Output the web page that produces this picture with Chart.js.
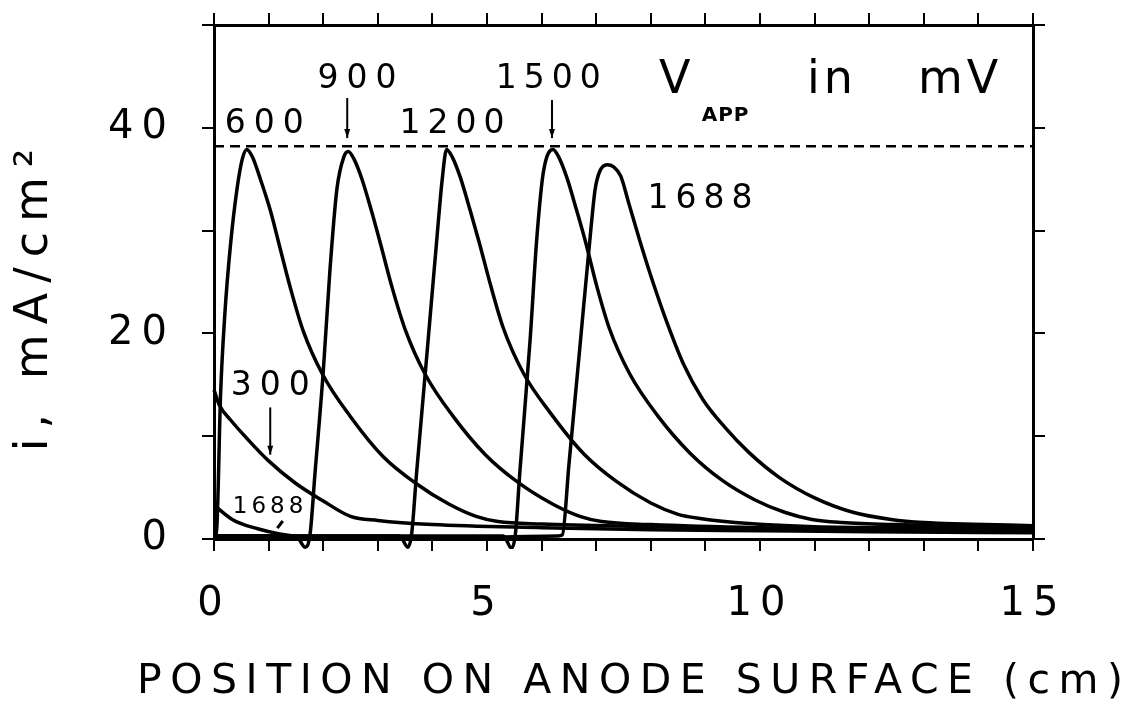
<!DOCTYPE html>
<html lang="en">
<head>
<meta charset="UTF-8">
<title>Current distribution on anode</title>
<style>
  html, body { margin: 0; padding: 0; background: #fff; }
  canvas { display: block; }
</style>
</head>
<body>
<canvas id="chart" width="1125" height="708"></canvas>
<script src="https://cdn.jsdelivr.net/npm/chart.js"></script>
<script>
// position (cm) vs current density (mA/cm2), one curve per V_APP
var x300 = [0, 0.1, 0.3, 0.6, 1.0, 1.5, 2.0, 2.5, 3.0, 4.0, 6.0, 8.0, 10.0, 12.0, 15.0];
var y300 = [14.5, 13.0, 11.6, 9.8, 7.6, 5.4, 3.7, 2.2, 1.8, 1.4, 1.1, 0.9, 0.8, 0.7, 0.6];

var x600 = [0, 0.05, 0.12, 0.2, 0.3, 0.42, 0.52, 0.6, 0.7, 0.85, 1.03, 1.2, 1.4, 1.63, 2.0, 2.5, 3.1, 3.7, 4.3, 4.8, 5.2, 6.0, 8.0, 10.0, 12.0, 15.0];
var y600 = [0, 1, 14, 22, 28.5, 34, 37, 37.9, 37.2, 35, 32, 28.5, 24.4, 20.3, 15.9, 11.9, 8, 5.4, 3.4, 2.2, 1.7, 1.45, 1.2, 1.0, 0.9, 0.8];

var x900 = [0, 1.5, 1.67, 1.76, 1.85, 2.0, 2.12, 2.25, 2.38, 2.46, 2.56, 2.71, 2.89, 3.06, 3.26, 3.5, 3.87, 4.37, 4.97, 5.57, 6.2, 6.7, 7.1, 8.0, 10.0, 12.0, 15.0];
var y900 = [0.3, 0.3, -0.8, 0.5, 6.4, 16.2, 25.9, 34, 37.2, 37.7, 37, 35, 31.8, 28.5, 24.5, 20.4, 16.0, 12, 8.2, 5.5, 3.4, 2.2, 1.7, 1.4, 1.1, 1.0, 0.9];

var x1200 = [0, 3.4, 3.55, 3.62, 3.71, 3.9, 4.08, 4.18, 4.26, 4.36, 4.51, 4.69, 4.86, 5.06, 5.3, 5.67, 6.17, 6.77, 7.37, 8.0, 8.5, 8.9, 9.8, 11.0, 13.0, 15.0];
var y1200 = [0.3, 0.3, -0.8, 0.5, 6.4, 18, 29.1, 35, 37.9, 37.2, 35.2, 32, 28.8, 24.8, 20.5, 16.1, 12.2, 8.3, 5.6, 3.5, 2.4, 2.0, 1.5, 1.2, 1.1, 1.0];

var x1500 = [0, 5.3, 5.45, 5.52, 5.6, 5.79, 5.91, 6.03, 6.21, 6.31, 6.46, 6.64, 6.81, 7.01, 7.24, 7.61, 8.11, 8.71, 9.31, 9.91, 10.45, 10.95, 11.5, 12.5, 15.0];
var y1500 = [0.3, 0.3, -0.9, 0.5, 6.4, 19.4, 29.1, 35.6, 37.9, 37.2, 35.2, 32, 28.8, 24.6, 20.5, 16.1, 12.1, 8.4, 5.7, 3.8, 2.6, 1.9, 1.6, 1.4, 1.2];

var x1688 = [0, 0.35, 0.8, 1.2, 1.7, 3.0, 5.0, 6.3, 6.38, 6.5, 6.7, 6.9, 6.98, 7.06, 7.2, 7.32, 7.45, 7.6, 7.8, 8.05, 8.3, 8.6, 8.95, 9.35, 9.8, 10.35, 11.0, 11.7, 12.4, 13.0, 15.0];
var y1688 = [3.3, 1.85, 1.0, 0.5, 0.2, 0.2, 0.2, 0.3, 0.4, 7.2, 18.6, 30, 34, 35.7, 36.4, 36.2, 35.3, 32.6, 29.0, 24.8, 21.0, 17.0, 13.6, 10.9, 8.4, 6.0, 4.0, 2.6, 1.9, 1.6, 1.3];

var limitY = 38.2;          // dashed limiting-current line
var xLabels = [0, 5, 10, 15];
var yLabels = [0, 20, 40];

var FONT = "'DejaVu Sans', sans-serif";

function pts(xs, ys) {
    return xs.map(function (x, i) { return { x: x, y: ys[i] }; });
}

function curve(xs, ys) {
    return {
        data: pts(xs, ys),
        borderColor: '#000',
        borderWidth: 3.5,
        pointRadius: 0,
        fill: false,
        cubicInterpolationMode: 'monotone',
        clip: 10
    };
}

var datasets = [
    curve(x300, y300),
    curve(x600, y600),
    curve(x900, y900),
    curve(x1200, y1200),
    curve(x1500, y1500),
    curve(x1688, y1688),
    {
        data: [{ x: 0, y: limitY }, { x: 15, y: limitY }],
        borderColor: '#000',
        borderWidth: 2.5,
        borderDash: [10, 6],
        pointRadius: 0
    }
];

// wider letters for the tick labels, like the plotter font
var spacing = {
    id: 'spacing',
    beforeDraw: function (chart) { chart.ctx.letterSpacing = '8px'; }
};

// text labels, arrows and axis titles
var annotate = {
    id: 'annotate',
    afterDraw: function (chart) {
        var ctx = chart.ctx;
        var xs = chart.scales.x, ys = chart.scales.y;
        function px(v) { return xs.getPixelForValue(v); }
        function py(v) { return ys.getPixelForValue(v); }

        function text(str, x, y, size, sp, bold) {
            ctx.save();
            ctx.font = (bold ? 'bold ' : '') + size + 'px ' + FONT;
            ctx.letterSpacing = sp + 'px';
            ctx.fillStyle = '#000';
            ctx.textAlign = 'center';
            ctx.textBaseline = 'middle';
            ctx.fillText(str, x + sp / 2, y);
            ctx.restore();
        }
        function arrow(x, y1, y2) {
            var X = px(x), Y1 = py(y1), Y2 = py(y2);
            ctx.save();
            ctx.strokeStyle = '#000';
            ctx.fillStyle = '#000';
            ctx.lineWidth = 2;
            ctx.beginPath();
            ctx.moveTo(X, Y1);
            ctx.lineTo(X, Y2);
            ctx.stroke();
            ctx.beginPath();
            ctx.moveTo(X - 3, Y2 - 9);
            ctx.lineTo(X + 3, Y2 - 9);
            ctx.lineTo(X, Y2);
            ctx.closePath();
            ctx.fill();
            ctx.restore();
        }

        text('600', px(0.92), py(40.3), 33, 8);
        text('900', px(2.62), py(44.7), 33, 8);
        text('1200', px(4.36), py(40.3), 33, 7);
        text('1500', px(6.12), py(44.7), 33, 7);
        text('1688', px(8.9), py(33.0), 33, 7);
        text('300', px(1.03), py(14.8), 33, 8);
        text('1688', px(0.99), py(3.1), 23, 4);
        text('V', px(8.44), py(44.5), 46, 0);
        text('APP', px(9.36), py(41.2), 20, 1, true);
        text('in', px(11.28), py(44.5), 46, 4);
        text('mV', px(13.63), py(44.5), 46, 4);

        arrow(2.44, 42.9, 39.0);
        arrow(6.19, 42.7, 39.0);
        arrow(1.03, 12.8, 8.2);

        // small tick pointing at the low 1688 curve
        ctx.save();
        ctx.strokeStyle = '#000';
        ctx.lineWidth = 3;
        ctx.beginPath();
        ctx.moveTo(px(1.26), py(1.75));
        ctx.lineTo(px(1.16), py(1.05));
        ctx.stroke();
        ctx.restore();

        // axis titles
        text('POSITION ON ANODE SURFACE (cm)', 630, 682, 41, 8.5);
        ctx.save();
        ctx.translate(35, 300);
        ctx.rotate(-Math.PI / 2);
        text('i, mA/cm\u00B2', 0, 0, 46, 10);
        ctx.restore();
    }
};

function axisLine() {
    return { display: true, color: '#000', width: 3 };
}
function tickGrid() {
    return { drawOnChartArea: false, drawTicks: true, tickLength: 12, color: '#000', lineWidth: 2 };
}
function fixH(h) {
    return function (s) { s.height = h; s.paddingLeft = 0; s.paddingRight = 0; };
}
function fixW(w) {
    return function (s) { s.width = w; s.paddingTop = 0; s.paddingBottom = 0; };
}

var ctx = document.getElementById('chart').getContext('2d');
var chart = new Chart(ctx, {
    type: 'line',
    data: { datasets: datasets },
    plugins: [spacing, annotate],
    options: {
        responsive: false,
        animation: false,
        layout: { padding: 0 },
        plugins: { legend: { display: false }, tooltip: { enabled: false } },
        scales: {
            x: {
                type: 'linear', position: 'bottom', min: 0, max: 15,
                border: axisLine(), grid: tickGrid(),
                ticks: {
                    stepSize: 1, padding: 30, color: '#000', maxRotation: 0, autoSkip: false,
                    font: { family: FONT, size: 40 },
                    callback: function (v) { return xLabels.indexOf(v) >= 0 ? String(v) : ''; }
                },
                afterFit: fixH(169)
            },
            x2: {
                type: 'linear', position: 'top', min: 0, max: 15,
                border: axisLine(), grid: tickGrid(),
                ticks: { stepSize: 1, autoSkip: false, callback: function () { return ''; } },
                afterFit: fixH(25)
            },
            y: {
                type: 'linear', position: 'left', min: 0, max: 50,
                border: axisLine(), grid: tickGrid(),
                ticks: {
                    stepSize: 10, padding: 27, color: '#000', autoSkip: false,
                    font: { family: FONT, size: 40 },
                    callback: function (v) { return yLabels.indexOf(v) >= 0 ? String(v) : ''; }
                },
                afterFit: fixW(214)
            },
            y2: {
                type: 'linear', position: 'right', min: 0, max: 50,
                border: axisLine(), grid: tickGrid(),
                ticks: { stepSize: 10, autoSkip: false, callback: function () { return ''; } },
                afterFit: fixW(92)
            }
        }
    }
});
</script>
</body>
</html>
